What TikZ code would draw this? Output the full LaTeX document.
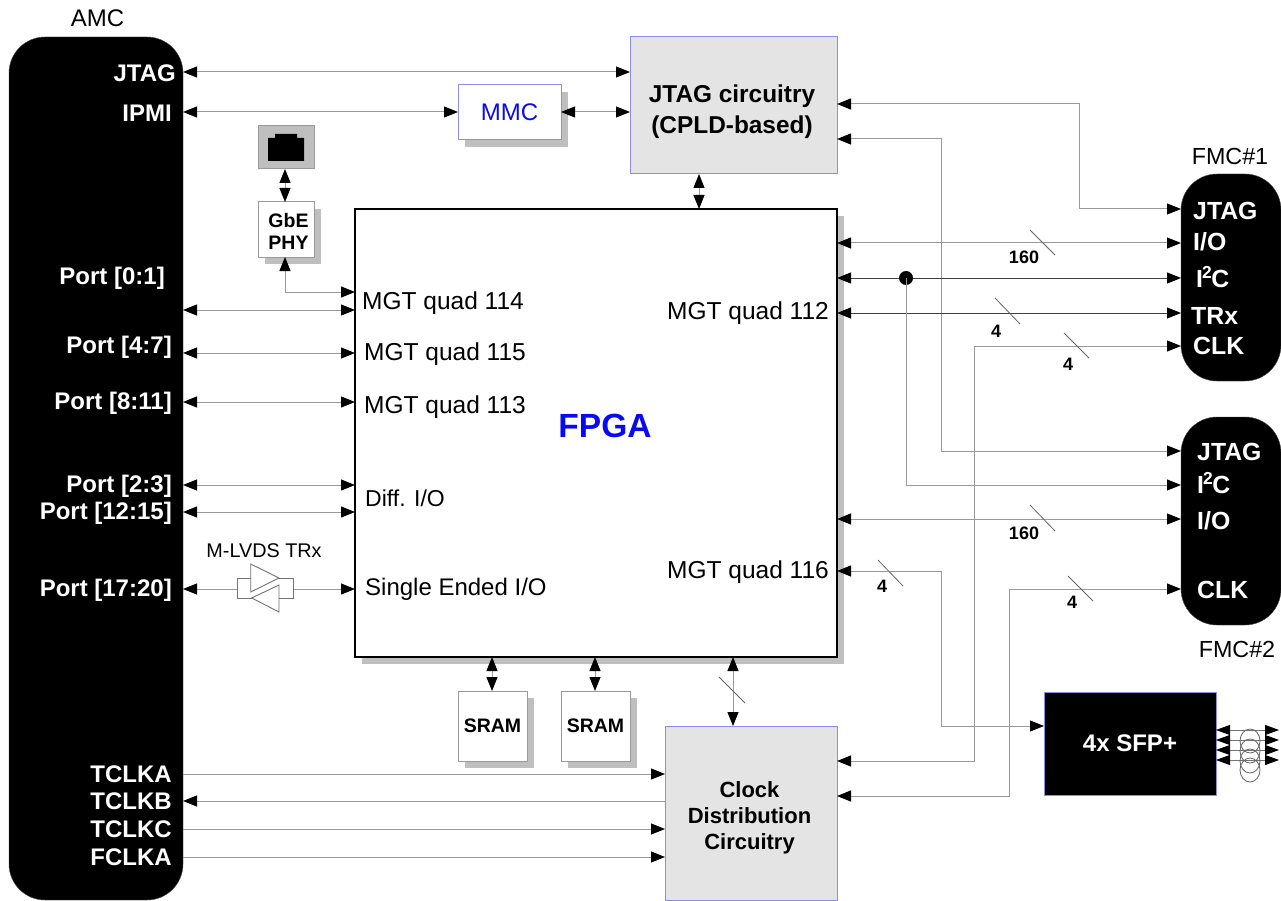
\documentclass[tikz,border=0pt]{standalone}
\usepackage{fontspec}
\setmainfont{Liberation Sans}
\usetikzlibrary{arrows.meta,shadows}
\definecolor{wirec}{HTML}{9A9A9A}
\definecolor{shadowc}{HTML}{BFBFBF}
\definecolor{bluec}{HTML}{8C8CF0}
\definecolor{greyfill}{HTML}{E4E4E4}
\definecolor{textblue}{HTML}{0A0AF0}
\tikzset{
  box/.style={draw=wirec,line width=1pt,fill=white,inner sep=0pt,outer sep=0pt,align=center},
  blueedge/.style={draw=bluec},
  shade7/.style={general shadow={fill=shadowc,shadow xshift=7pt,shadow yshift=-7pt}},
  pill/.style={fill=black,draw=black!70,rounded corners=36pt,inner sep=0pt,outer sep=0pt},
  wire/.style={draw=wirec,line width=1pt},
  dark/.style={draw=black!75,line width=1pt},
  tip/.style={-{Triangle[length=14pt,width=11pt,black]}},
  tips/.style={{Triangle[length=14pt,width=11pt,black]}-{Triangle[length=14pt,width=11pt,black]}},
  tipl/.style={{Triangle[length=14pt,width=11pt,black]}-},
  slash/.style={draw=black!60,line width=0.8pt},
  wl/.style={text=white,font=\fontsize{24}{26}\selectfont\bfseries,inner sep=0pt,anchor=east},
  wr/.style={text=white,font=\fontsize{24.8}{26}\selectfont\bfseries,inner sep=0pt,anchor=west},
  reg/.style={font=\fontsize{24.5}{26}\selectfont,inner sep=0pt},
  num/.style={font=\fontsize{18}{20}\selectfont\bfseries,inner sep=0pt}
}
\begin{document}
\begin{tikzpicture}[x=1pt,y=-1pt]
\useasboundingbox[fill=white] (0,0) rectangle (1281,901);
% containers
\node[pill,minimum width=174pt,minimum height=863pt] (amc) at (96,468.5) {};
\node[pill,minimum width=100pt,minimum height=207pt] (fmca) at (1231,277.5) {};
\node[pill,minimum width=100pt,minimum height=208pt] (fmcb) at (1231,521) {};
% boxes
\node[box,blueedge,fill=greyfill,minimum width=207pt,minimum height=137pt] (jtag) at (733.5,105.5) {};
\node[box,blueedge,shade7,minimum width=103pt,minimum height=55pt,text=textblue,font=\fontsize{24}{26}\selectfont] (mmc) at (509.5,112.5) {MMC};
\node[box,draw=black,line width=1.4pt,shade7,minimum width=482pt,minimum height=448pt] (fpga) at (596,433) {};
\node[box,fill=shadowc,minimum width=56pt,minimum height=43pt] (rj) at (286,147.5) {};
\node[box,shade7,minimum width=56pt,minimum height=55pt] (phy) at (286,229.5) {};
\node[box,shade7,minimum width=69pt,minimum height=70pt,font=\fontsize{19.5}{22}\selectfont\bfseries] (srama) at (492.5,726) {SRAM};
\node[box,shade7,minimum width=69pt,minimum height=70pt,font=\fontsize{19.5}{22}\selectfont\bfseries] (sramb) at (595.5,726) {SRAM};
\node[box,blueedge,fill=greyfill,minimum width=172pt,minimum height=174pt] (clk) at (751,813) {};
\node[box,blueedge,fill=black,text=white,minimum width=172pt,minimum height=103pt,font=\fontsize{24}{26}\selectfont\bfseries] (sfp) at (1130,743.5) {4x SFP+};
% box texts placed as the reference places them
\node[inner sep=0pt,align=center,font=\fontsize{24.4}{31}\selectfont\bfseries] (jtagtext) at (732,112) {JTAG circuitry\\(CPLD-based)};
\node[inner sep=0pt,text=textblue,font=\fontsize{33.5}{36}\selectfont\bfseries] (fpgatext) at (605,426) {FPGA};
\node[inner sep=0pt,align=center,font=\fontsize{19.5}{22}\selectfont\bfseries] (phytext) at (288.5,231) {GbE\\PHY};
\node[inner sep=0pt,align=center,font=\fontsize{22}{26}\selectfont\bfseries] (clktext) at (749.5,818) {Clock\\Distribution\\Circuitry};
% RJ45 jack
\fill[black] (268,138) -- (275,138) -- (275,134) -- (297,134) -- (297,138) -- (304,138) -- (304,161) -- (268,161) -- cycle;
% free coordinates
\coordinate (portright) at (1279,0);
\coordinate (bendjtag) at (1079,104);
\coordinate (bendb) at (941,139);
\coordinate (dot) at (906,278);
\coordinate (bendclka) at (974,346);
\coordinate (bendq) at (941,571);
\coordinate (bendclkb) at (1009,589);
\coordinate (bendphy) at (285,292);
% AMC top connectors
\draw[wire,tips] (amc.east |- 0,72) -- (jtag.west |- 0,72);
\draw[wire,tips] (amc.east |- 0,112) -- (mmc.west |- 0,112);
\draw[wire,tips] (mmc.east |- 0,112) -- (jtag.west |- 0,112);
\draw[wire,tips] (jtag.south -| 699,0) -- (fpga.north -| 699,0);
\draw[wire,tips] (rj.south -| 285,0) -- (phy.north -| 285,0);
\draw[wire,tips] (phy.south -| bendphy) -- (bendphy) -- (fpga.west |- bendphy);
% AMC ports to FPGA
\foreach \yy in {310,353,402,485,512}{
  \draw[wire,tips] (amc.east |- 0,\yy) -- (fpga.west |- 0,\yy);
}
% M-LVDS
\coordinate (lvdsl) at (237,589);
\coordinate (lvdsr) at (293,589);
\draw[wire,tipl] (amc.east |- lvdsl) -- (lvdsl);
\draw[wire,tip] (lvdsr) -- (fpga.west |- lvdsr);
\draw[wire,line width=0.9pt,draw=black!55] (250.7,578) -- (237,578) -- (237,598) -- (251.7,598);
\draw[wire,line width=0.9pt,draw=black!55] (279,578) -- (293,578) -- (293,598) -- (279,598);
\draw[wire,line width=0.9pt,draw=black!55] (250.7,564) -- (279,578) -- (250.7,592) -- cycle;
\draw[wire,line width=0.9pt,draw=black!55] (279,585) -- (251.7,598) -- (279,612) -- cycle;
% clock lines from AMC
\draw[wire,tip] (amc.east |- 0,774) -- (clk.west |- 0,774);
\draw[wire,tipl] (amc.east |- 0,801) -- (clk.west |- 0,801);
\draw[wire,tip] (amc.east |- 0,829) -- (clk.west |- 0,829);
\draw[wire,tip] (amc.east |- 0,857) -- (clk.west |- 0,857);
% FPGA south
\draw[wire,tips] (fpga.south -| 492,0) -- (srama.north -| 492,0);
\draw[wire,tips] (fpga.south -| 595,0) -- (sramb.north -| 595,0);
\draw[wire,tips] (fpga.south -| 733,0) -- (clk.north -| 733,0);
\draw[slash] (719,677) -- (745,703);
% right-hand side
\draw[wire,tips] (jtag.east |- bendjtag) -- (bendjtag) -- (1079,209) -- (fmca.west |- 0,209);
\draw[wire,tips] (jtag.east |- bendb) -- (bendb) -- (941,451) -- (fmcb.west |- 0,451);
\draw[wire,tips] (fpga.east |- 0,243) -- (fmca.west |- 0,243);
\draw[dark,tips] (fpga.east |- 0,278) -- (fmca.west |- 0,278);
\draw[dark,tips] (fpga.east |- 0,313) -- (fmca.west |- 0,313);
\fill[black] (dot) circle (7pt);
\draw[wire,tip] (dot) -- (906,485) -- (fmcb.west |- 0,485);
\draw[wire,tips] (clk.east |- 0,761) -- (974,761) -- (bendclka) -- (fmca.west |- bendclka);
\draw[wire,tips] (fpga.east |- 0,519) -- (fmcb.west |- 0,519);
\draw[wire,tips] (fpga.east |- bendq) -- (bendq) -- (941,726) -- (sfp.west |- 0,726);
\draw[wire,tips] (clk.east |- 0,796) -- (1009,796) -- (bendclkb) -- (fmcb.west |- bendclkb);
% slashes
\draw[slash] (1030,230) -- (1055,255);
\draw[slash] (995,298) -- (1020,324);
\draw[slash] (1064,333) -- (1089,358);
\draw[slash] (1030,505) -- (1055,531);
\draw[slash] (878,560) -- (903,586);
\draw[slash] (1068,576) -- (1093,601);
% SFP fibres
\foreach \yy in {730,740,750,760}{
  \draw[draw=black!55,line width=0.8pt,{Triangle[length=14pt,width=10pt,black]}-{Triangle[length=14pt,width=10pt,black]}] (sfp.east |- 0,\yy) -- (portright |- 0,\yy);
}
\foreach \yy in {741,751,761,770}{
  \draw[draw=black!60,line width=0.8pt] (1250,\yy) ellipse (10pt and 12pt);
}
% numbers
\node[num] (n160a) at (1024,257) {160};
\node[num] (n4a) at (996,331) {4};
\node[num] (n4b) at (1068,364) {4};
\node[num] (n160b) at (1024,533) {160};
\node[num] (n4c) at (882,586) {4};
\node[num] (n4d) at (1072,602) {4};
% AMC labels
\node[reg,font=\fontsize{24}{26}\selectfont] (amctitle) at (97.5,18) {AMC};
\node[wl] (l1) at (176,73) {JTAG};
\node[wl] (l2) at (172,113) {IPMI};
\node[wl] (l3) at (165,278) {Port [0:1]};
\node[wl] (l4) at (172,347) {Port [4:7]};
\node[wl] (l5) at (172,403) {Port [8:11]};
\node[wl] (l6) at (172,486) {Port [2:3]};
\node[wl] (l7) at (172,513) {Port [12:15]};
\node[wl] (l8) at (172,590) {Port [17:20]};
\node[wl] (l9) at (172,774) {TCLKA};
\node[wl] (l10) at (172,801) {TCLKB};
\node[wl] (l11) at (172,829) {TCLKC};
\node[wl] (l12) at (172,857) {FCLKA};
\node[reg,font=\fontsize{19.8}{22}\selectfont] (lvdslab) at (264,551) {M-LVDS TRx};
% FPGA labels
\node[reg,anchor=west] (q114) at (362,303) {MGT quad 114};
\node[reg,anchor=west] (q115) at (364,354) {MGT quad 115};
\node[reg,anchor=west] (q113) at (364,407) {MGT quad 113};
\node[reg,font=\fontsize{23}{25}\selectfont,anchor=west] (dio) at (365,498) {Diff. I/O};
\node[reg,font=\fontsize{24}{26}\selectfont,anchor=west] (seio) at (365,589) {Single Ended I/O};
\node[reg,anchor=east] (q112) at (829,313) {MGT quad 112};
\node[reg,anchor=east] (q116) at (829,572) {MGT quad 116};
% FMC labels
\node[reg,font=\fontsize{23.3}{25}\selectfont] (fmcat) at (1230,156) {FMC\#1};
\node[reg,font=\fontsize{23.3}{25}\selectfont] (fmcbt) at (1237,649) {FMC\#2};
\node[wr] (a1) at (1193,211) {JTAG};
\node[wr] (a2) at (1193,242) {I/O};
\node[wr] (a3) at (1196,277) {I\kern-1pt\textsuperscript{2}\kern-1ptC};
\node[wr] (a4) at (1191,316) {TRx};
\node[wr] (a5) at (1193,346) {CLK};
\node[wr] (b1) at (1197,452) {JTAG};
\node[wr] (b2) at (1197,483) {I\kern-1pt\textsuperscript{2}\kern-1ptC};
\node[wr] (b3) at (1197,521) {I/O};
\node[wr] (b4) at (1197,590) {CLK};
\end{tikzpicture}
\end{document}
